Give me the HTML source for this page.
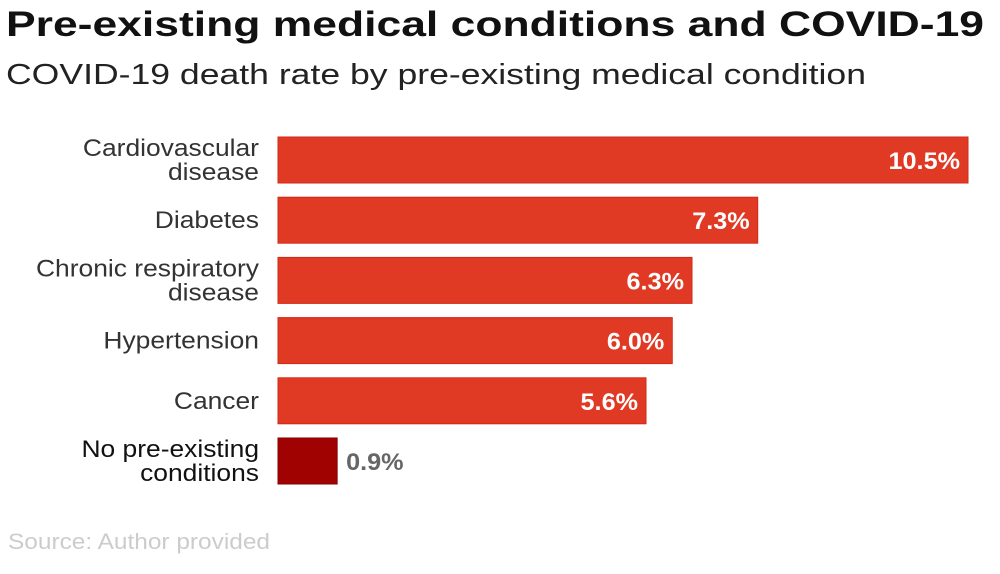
<!DOCTYPE html>
<html><head><meta charset="utf-8"><style>
body{margin:0;width:1000px;height:569px;background:#fff;overflow:hidden;font-family:"Liberation Sans",sans-serif}
</style></head><body>
<svg id="chart" width="1000" height="569">
<text x="6" y="36" font-size="35" font-weight="bold" fill="#111" textLength="978" lengthAdjust="spacingAndGlyphs">Pre-existing medical conditions and COVID-19</text>
<text x="6" y="84" font-size="29" fill="#222" textLength="860" lengthAdjust="spacingAndGlyphs">COVID-19 death rate by pre-existing medical condition</text>
<text x="8" y="549" font-size="22" fill="#ccc" textLength="262" lengthAdjust="spacingAndGlyphs">Source: Author provided</text>
<g id="bars"></g>
</svg>
<script>
const categories=[["Cardiovascular","disease"],["Diabetes"],["Chronic respiratory","disease"],["Hypertension"],["Cancer"],["No pre-existing","conditions"]];
const values=[10.5,7.3,6.3,6.0,5.6,0.9];
const labels=["10.5%","7.3%","6.3%","6.0%","5.6%","0.9%"];
const x0=278,scale=690/10.5,y0=137,pitch=60.2,bh=46;
const xs=v=>v*scale;
const g=document.getElementById('bars');
const NS="http://www.w3.org/2000/svg";
function stretch(el,f){const w=el.getComputedTextLength();el.setAttribute('textLength',w*f);el.setAttribute('lengthAdjust','spacingAndGlyphs');}
values.forEach((v,i)=>{
  const y=y0+i*pitch;
  const last=i===values.length-1;
  const r=document.createElementNS(NS,'rect');
  r.setAttribute('x',x0);r.setAttribute('y',y);r.setAttribute('width',xs(v));r.setAttribute('height',bh);
  r.setAttribute('fill',last?'#a00202':'#e03a25');
  r.setAttribute('stroke',last?'#8a0000':'#d22a18');
  
  
  g.appendChild(r);
  const t=document.createElementNS(NS,'text');
  t.textContent=labels[i];
  t.setAttribute('font-size','24');t.setAttribute('font-weight','bold');
  t.setAttribute('y',y+bh/2+9);
  if(last){t.setAttribute('x',x0+xs(v)+9);t.setAttribute('fill','#666');}
  else{t.setAttribute('x',x0+xs(v)-8);t.setAttribute('text-anchor','end');t.setAttribute('fill','#fff');}
  
  
  g.appendChild(t);
  stretch(t,1.05);
  const c=categories[i];
  c.forEach((line,j)=>{
    const l=document.createElementNS(NS,'text');
    l.textContent=line;
    l.setAttribute('x',259);l.setAttribute('text-anchor','end');l.setAttribute('font-size','24');
    l.setAttribute('fill',last?'#111':'#333');
    const cy=y+bh/2+8+(c.length===2?(j===0?-12:12):0);
    l.setAttribute('y',cy);
    
    
    g.appendChild(l);
    stretch(l,1.1);
  });
});
</script>
</body></html>
